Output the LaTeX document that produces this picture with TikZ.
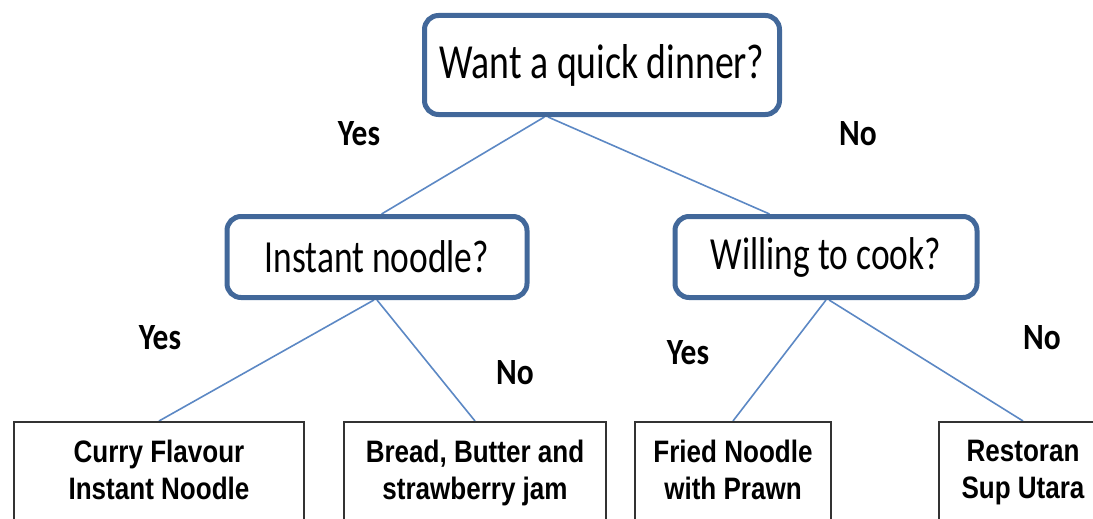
\documentclass[tikz,border=0pt]{standalone}
\usepackage{fontspec}
\setmainfont{Carlito}
\newfontfamily\questfont[FakeStretch=0.77]{Carlito}
\newfontfamily\choicefont[FakeStretch=0.85]{Carlito}
\newfontfamily\answerfont[FakeStretch=0.84]{Liberation Sans}
\usepackage{xcolor}
\usetikzlibrary{backgrounds}
\usetikzlibrary{calc}
\definecolor{boxblue}{RGB}{66,104,154}
\definecolor{edgeblue}{RGB}{92,136,196}

\begin{document}
\begin{tikzpicture}[x=1pt, y=-1pt,
  question/.style={draw=boxblue, line width=5pt, rounded corners=14pt, fill=white, inner sep=0pt, font=\questfont\fontsize{46}{55}\selectfont},
  answer/.style={draw=black!80, line width=2pt, anchor=north, align=center, minimum height=102pt, inner sep=0pt, execute at end node=\vphantom{y}, font=\answerfont\bfseries\fontsize{31}{37}\selectfont},
  choice/.style={font=\choicefont\bfseries\fontsize{37}{40}\selectfont},
  branch/.style={draw=edgeblue, line width=1.6pt}]
  \useasboundingbox (0,0) rectangle (1093,519);
  \clip (0,0) rectangle (1093,519);

  % questions
  \node[question, minimum width=355pt, minimum height=99pt, font=\questfont\fontsize{49}{55}\selectfont] (dinner) at (602,65) {Want a quick dinner?};
  \node[question, minimum width=300pt, minimum height=81pt] (instant) at (377,257) {Instant noodle?};
  \node[question, minimum width=302pt, minimum height=81pt] (cook) at (826,257) {Willing to cook?};

  % answers
  \node[answer, minimum width=290pt] (curry) at (159,421) {Curry Flavour\\Instant Noodle};
  \node[answer, minimum width=262pt] (bread) at (475,421) {Bread, Butter and\\strawberry jam};
  \node[answer, minimum width=196pt] (fried) at (733,421) {Fried Noodle\\with Prawn};
  \node[answer, minimum width=168pt] (restoran) at (1023,421) {Restoran\\Sup Utara};

  \node[choice] (yesdinner) at (359,134) {Yes};
  \node[choice] (nodinner) at (858,134) {No};
  \node[choice] (yesinstant) at (160,338) {Yes};
  \node[choice] (noinstant) at (515,373) {No};
  \node[choice] (yescook) at (688,353) {Yes};
  \node[choice] (nocook) at (1042,338) {No};

  \begin{scope}[on background layer]
    \draw[branch] ($(dinner.south west)!0.34!(dinner.south east)$) -- ($(instant.north west)!0.515!(instant.north east)$);
    \draw[branch] ($(dinner.south west)!0.35!(dinner.south east)$) -- ($(cook.north west)!0.316!(cook.north east)$);
    \draw[branch] ($(instant.south west)!0.49!(instant.south east)$) -- (curry.north);
    \draw[branch] ($(instant.south west)!0.5!(instant.south east)$) -- (bread.north);
    \draw[branch] ($(cook.south west)!0.5!(cook.south east)$) -- (fried.north);
    \draw[branch] ($(cook.south west)!0.51!(cook.south east)$) -- ($(restoran.north west)!0.5!(restoran.north east)$);
  \end{scope}
\end{tikzpicture}
\end{document}
